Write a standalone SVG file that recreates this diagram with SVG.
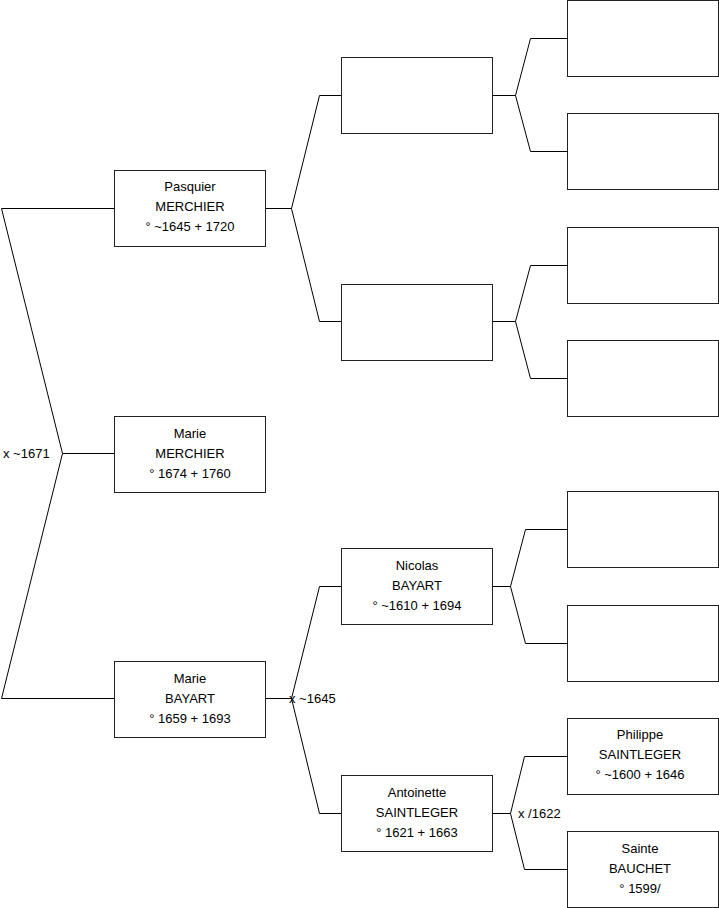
<svg xmlns="http://www.w3.org/2000/svg" width="719" height="908" viewBox="0 0 719 908">
<style>
.box{fill:#fff;stroke:#222;stroke-width:1}
.ln{fill:none;stroke:#000;stroke-width:1}
text{font-family:"Liberation Sans",Arial,sans-serif;font-size:13px;fill:#000}
.c{text-anchor:middle}
</style>
<rect width="719" height="908" fill="#fff"/>
<g id="connectors">
<path class="ln" d="M114,208.5 H1.5 L62.5,453.5 L1.5,698.5 H114 M62.5,453.5 H114"/>
<path class="ln" d="M265,208.5 H291.5 L319.5,95.5 H341 M291.5,208.5 L319.5,321.5 H341"/>
<path class="ln" d="M265,698.5 H291.5 L319.5,586.5 H341 M291.5,698.5 L319.5,813.5 H341"/>
<path class="ln" d="M492,95.5 H515.5 L530.5,38.5 H567 M515.5,95.5 L530.5,151.5 H567"/>
<path class="ln" d="M492,321.5 H515.5 L530.5,265.5 H567 M515.5,321.5 L530.5,378.5 H567"/>
<path class="ln" d="M492,586.5 H510.5 L525.5,529.5 H567 M510.5,586.5 L525.5,643.5 H567"/>
<path class="ln" d="M492,813.5 H510.5 L524.5,756.5 H567 M510.5,813.5 L524.5,869.5 H567"/>
<text x="3" y="457.5">x ~1671</text>
<text x="289" y="702.5">x ~1645</text>
<text x="518" y="817.5">x /1622</text>
</g>
<g id="pasquier"><rect class="box" x="114.5" y="170.5" width="151" height="76"/><text class="c" x="190" y="190.5">Pasquier</text><text class="c" x="190" y="210.5">MERCHIER</text><text class="c" x="190" y="230.5">° ~1645 + 1720</text></g>
<g id="marie-merchier"><rect class="box" x="114.5" y="416.5" width="151" height="76"/><text class="c" x="190" y="437.5">Marie</text><text class="c" x="190" y="457.5">MERCHIER</text><text class="c" x="190" y="477.5">° 1674 + 1760</text></g>
<g id="marie-bayart"><rect class="box" x="114.5" y="661.5" width="151" height="76"/><text class="c" x="190" y="682.5">Marie</text><text class="c" x="190" y="702.5">BAYART</text><text class="c" x="190" y="722.5">° 1659 + 1693</text></g>
<g id="p-father"><rect class="box" x="341.5" y="57.5" width="151" height="76"/></g>
<g id="p-mother"><rect class="box" x="341.5" y="284.5" width="151" height="76"/></g>
<g id="nicolas"><rect class="box" x="341.5" y="548.5" width="151" height="76"/><text class="c" x="417" y="569.5">Nicolas</text><text class="c" x="417" y="589.5">BAYART</text><text class="c" x="417" y="609.5">° ~1610 + 1694</text></g>
<g id="antoinette"><rect class="box" x="341.5" y="775.5" width="151" height="76"/><text class="c" x="417" y="796.5">Antoinette</text><text class="c" x="417" y="816.5">SAINTLEGER</text><text class="c" x="417" y="836.5">° 1621 + 1663</text></g>
<g id="g3-1"><rect class="box" x="567.5" y="0.5" width="151" height="76"/></g>
<g id="g3-2"><rect class="box" x="567.5" y="113.5" width="151" height="76"/></g>
<g id="g3-3"><rect class="box" x="567.5" y="227.5" width="151" height="76"/></g>
<g id="g3-4"><rect class="box" x="567.5" y="340.5" width="151" height="76"/></g>
<g id="g3-5"><rect class="box" x="567.5" y="491.5" width="151" height="76"/></g>
<g id="g3-6"><rect class="box" x="567.5" y="605.5" width="151" height="76"/></g>
<g id="philippe"><rect class="box" x="567.5" y="718.5" width="151" height="76"/><text class="c" x="640" y="738.5">Philippe</text><text class="c" x="640" y="758.5">SAINTLEGER</text><text class="c" x="640" y="778.5">° ~1600 + 1646</text></g>
<g id="sainte"><rect class="box" x="567.5" y="831.5" width="151" height="76"/><text class="c" x="640" y="852.5">Sainte</text><text class="c" x="640" y="872.5">BAUCHET</text><text class="c" x="640" y="892.5">° 1599/</text></g>
</svg>
